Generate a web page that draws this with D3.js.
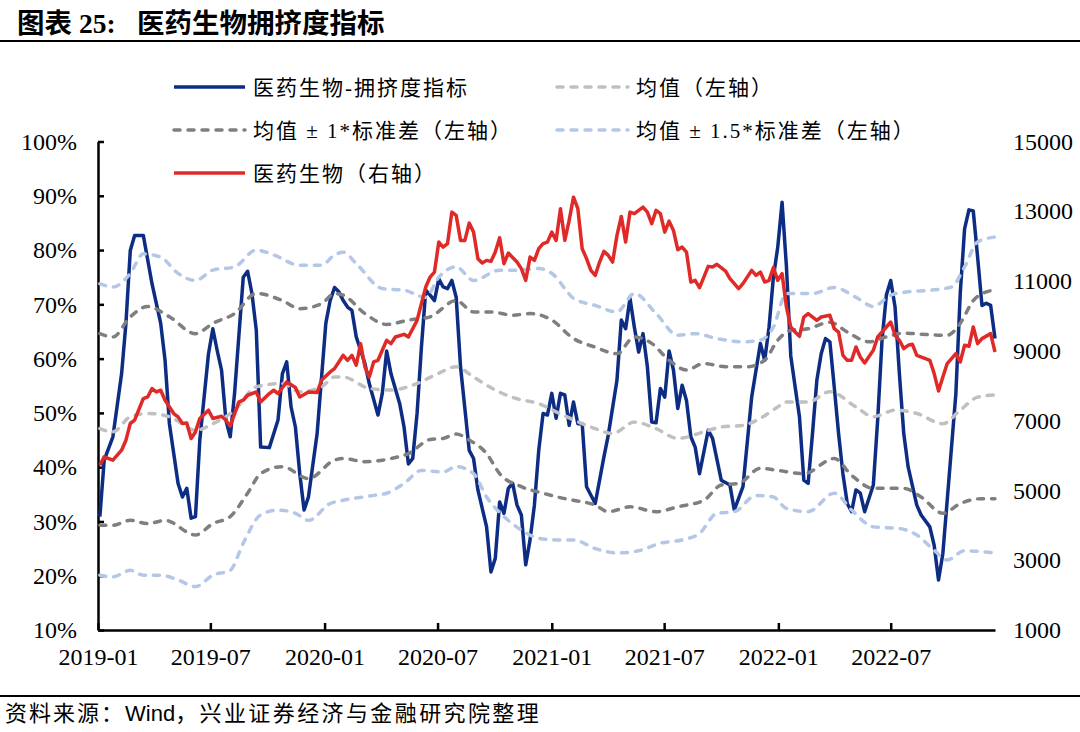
<!DOCTYPE html>
<html>
<head>
<meta charset="utf-8">
<script src="https://cdn.jsdelivr.net/npm/d3@7"></script>
<style>
  html, body { margin: 0; padding: 0; background: #fff; }
  #chart { width: 1080px; height: 732px; }
</style>
</head>
<body>
<div id="chart"></div>
<script>
// crowding-chart.js

// weekly data, week 0 = 2019-01-04 (Friday)
const crowding = [
  [0,30.9],[1,41.3],[3,45.6],[5,57.2],[6,66.5],[7,79.9],[8,82.7],[10,82.7],[12,73.8],[14,66.5],[15,59.7],[16,48.0],
  [17,42.5],[18,37.0],[19,34.5],[20,36.1],[21,30.6],[22,30.9],[23,45.0],[25,60.9],[26,65.5],[27,61.5],[28,57.9],
  [29,48.7],[30,45.6],[31,53.6],[33,75.0],[34,76.1],[35,72.0],[36,65.2],[37,43.7],[39,43.6],[41,48.7],[42,57.2],
  [43,59.4],[44,51.1],[45,47.4],[46,38.8],[47,32.1],[48,34.5],[50,46.2],[52,66.5],[53,70.7],[54,73.1],[55,72.3],
  [56,70.7],[57,69.5],[58,68.9],[59,64.0],[61,59.1],[62,55.4],[64,49.6],[65,53.6],[66,61.4],[67,57.2],[69,51.7],
  [70,47.4],[71,40.6],[72,41.6],[73,49.9],[74,62.1],[75,72.6],[76,71.7],[77,70.7],[78,74.7],[79,73.2],[80,72.9],
  [81,74.4],[82,71.3],[83,58.5],[85,43.1],[86,41.6],[87,35.8],[89,29.0],[90,20.7],[91,23.2],[92,33.6],[93,31.5],
  [94,36.1],[95,37.0],[96,33.0],[97,31.2],[98,22.0],[99,26.6],[100,33.0],[101,43.1],[102,49.9],[103,49.6],[104,53.6],
  [105,49.0],[106,53.6],[107,53.3],[108,47.7],[109,52.0],[110,48.0],[111,48.0],[112,36.4],[114,33.3],[116,41.9],
  [117,45.9],[119,56.0],[120,67.1],[121,65.5],[122,71.1],[123,65.8],[124,61.2],[125,64.6],[126,58.5],[127,48.3],
  [128,48.2],[129,54.5],[130,52.9],[131,61.4],[132,57.9],[133,50.8],[134,55.1],[135,52.3],[136,45.6],[137,43.7],
  [138,38.8],[140,46.8],[141,45.3],[143,37.6],[145,36.7],[146,32.1],[148,36.4],[150,52.9],[152,62.8],[153,59.7],
  [154,65.8],[155,75.0],[156,80.5],[157,88.8],[158,77.0],[159,60.5],[160,54.8],[161,49.3],[162,37.6],[163,37.0],
  [164,46.2],[165,56.0],[166,60.9],[167,63.7],[168,63.1],[169,54.8],[170,46.2],[171,38.8],[172,33.3],[173,31.8],
  [174,35.8],[175,35.2],[176,31.8],[178,36.7],[179,48.7],[180,63.4],[181,71.7],[182,74.4],[183,69.5],[184,57.2],
  [185,46.2],[186,40.1],[188,33.0],[189,31.2],[191,29.0],[192,25.6],[193,19.2],[194,24.1],[195,33.9],[197,53.6],
  [198,72.0],[199,83.9],[200,87.4],[201,87.2],[202,78.7],[203,69.8],[204,70.2],[205,69.8],[206,63.7]
];

const meanLine = [
  [0,47.1],[3,46.5],[7,49.3],[11,49.9],[16,49.3],[22,46.8],[26,48.0],[31,50.5],[36,54.8],[42,55.4],[46,53.9],
  [51,54.8],[54,56.6],[56,56.6],[62,54.5],[67,54.2],[72,55.1],[77,56.9],[82,58.5],[86,56.6],[91,54.2],[96,52.6],
  [101,51.7],[105,50.2],[109,48.7],[114,47.1],[118,46.2],[123,48.3],[128,47.1],[133,45.3],[139,46.5],[143,47.4],
  [148,47.7],[152,49.0],[156,51.1],[158,52.0],[163,52.0],[168,53.9],[174,51.1],[178,49.3],[183,50.5],[188,49.9],
  [194,48.0],[198,50.5],[202,52.9],[206,53.3]
];

const upper1 = [
  [0,64.6],[3,64.0],[7,67.7],[11,69.6],[16,67.7],[22,64.6],[26,66.5],[31,68.3],[36,72.0],[42,70.7],[46,69.2],
  [51,70.1],[54,72.0],[56,71.7],[61,68.3],[66,66.3],[71,67.1],[76,67.7],[82,70.7],[86,68.6],[90,68.6],[95,68.0],
  [99,68.3],[104,67.1],[109,63.7],[114,62.1],[119,60.9],[123,64.0],[127,62.8],[131,59.7],[135,57.9],[139,59.1],
  [144,58.5],[149,58.5],[153,59.7],[156,63.4],[159,65.2],[163,65.5],[168,66.7],[172,64.9],[177,63.1],[181,64.0],
  [185,64.7],[189,64.5],[195,64.3],[198,66.5],[201,70.7],[204,72.3],[206,72.6]
];

const lower1 = [
  [0,29.3],[3,29.3],[7,30.2],[11,29.6],[15,30.2],[22,27.5],[26,29.6],[30,30.9],[34,35.2],[37,38.8],[42,40.1],
  [48,37.9],[54,41.3],[56,41.6],[61,41.0],[67,41.6],[71,42.5],[76,45.1],[79,45.3],[82,46.1],[85,45.0],[89,42.5],
  [92,38.8],[97,36.4],[102,35.2],[107,34.2],[109,33.9],[114,33.0],[117,31.8],[122,32.7],[128,31.8],[133,32.7],
  [139,33.9],[143,36.7],[147,37.0],[152,39.8],[156,39.4],[162,38.8],[169,41.6],[173,38.5],[178,36.1],[185,36.1],
  [189,34.5],[194,31.5],[198,33.3],[203,34.2],[206,34.2]
];

const upper15 = [
  [0,73.8],[3,73.2],[7,75.7],[10,79.3],[14,78.7],[18,75.7],[22,74.4],[26,76.3],[31,76.9],[36,80.0],[40,79.1],
  [46,77.2],[51,77.2],[54,79.1],[56,79.6],[59,77.5],[65,72.9],[70,72.6],[75,71.3],[78,75.0],[82,76.9],[86,74.4],
  [92,76.3],[96,76.3],[101,76.6],[105,75.0],[107,72.9],[109,71.1],[114,69.8],[119,68.6],[123,72.0],[128,68.3],
  [133,64.3],[137,64.6],[142,63.7],[148,63.1],[152,63.4],[155,65.8],[158,72.0],[164,72.0],[169,73.1],[174,71.3],
  [178,69.6],[182,71.7],[186,72.3],[191,72.6],[196,73.2],[199,76.9],[202,81.5],[206,82.4]
];

const lower15 = [
  [0,20.1],[3,19.8],[7,21.0],[10,20.1],[14,20.1],[18,19.2],[22,18.0],[26,20.1],[30,21.0],[33,26.0],[37,31.2],
  [41,32.1],[45,31.5],[48,30.2],[53,33.3],[56,33.9],[63,34.8],[66,35.2],[70,37.0],[74,39.4],[79,39.1],[82,40.1],
  [86,38.8],[89,34.5],[93,30.9],[97,28.4],[101,26.9],[105,26.6],[109,26.6],[114,25.0],[119,24.2],[124,24.6],
  [129,26.0],[134,26.6],[138,27.8],[142,31.5],[146,31.8],[151,34.8],[155,34.5],[158,32.4],[163,31.8],[169,35.2],
  [173,32.1],[178,29.0],[184,28.7],[188,27.5],[192,24.7],[195,22.9],[199,24.6],[206,24.2]
];

// index level, right axis
const indexLine = [
  [0,5724],[1,5962],[3,5867],[5,6153],[6,6440],[7,6918],[8,7012],[10,7634],[11,7679],[12,7920],[13,7822],[14,7871],
  [15,7585],[17,7204],[18,7107],[19,6918],[20,6935],[21,6488],[22,6677],[23,7061],[25,7299],[26,7061],[28,7127],
  [29,7012],[30,6841],[32,7536],[33,7585],[34,7728],[36,7822],[37,7536],[39,7777],[40,7871],[41,7777],[43,8109],
  [45,7948],[46,7679],[48,7822],[50,7805],[51,8158],[53,8395],[54,8492],[56,8873],[57,8730],[58,8873],[59,8587],
  [60,9208],[61,8538],[62,8252],[63,8682],[64,8730],[66,9303],[67,9208],[68,9397],[70,9474],[71,9397],[73,9875],
  [75,10829],[76,11115],[77,11258],[78,12117],[79,11974],[80,12071],[81,12976],[82,12881],[83,12166],[84,12166],
  [85,12661],[86,12403],[87,11642],[88,11516],[89,11593],[90,11564],[91,11831],[92,12243],[93,11498],[94,11802],
  [96,11545],[97,11356],[98,11021],[99,11688],[100,11593],[101,11928],[102,12071],[103,12117],[104,12403],[105,12166],
  [106,13073],[107,12166],[108,12738],[109,13405],[110,13073],[111,11928],[112,11642],[113,11307],[114,11164],
  [115,11545],[116,11851],[117,11736],[118,11545],[119,12309],[120,12853],[121,12117],[122,12976],[123,12930],
  [125,13119],[126,12976],[127,12644],[128,13025],[129,12930],[130,12403],[131,12718],[132,12452],[133,11899],
  [134,11974],[135,11831],[136,10972],[137,11021],[138,10811],[139,11115],[140,11421],[141,11401],[142,11479],
  [144,11287],[145,11069],[147,10783],[148,10926],[150,11307],[151,11164],[152,11258],[153,10972],[154,11021],
  [155,11384],[156,11021],[157,11212],[158,10256],[159,9684],[160,9540],[161,9417],[162,9970],[163,10067],[165,9875],
  [166,9970],[168,10018],[169,9638],[170,9540],[171,8873],[172,8730],[173,8730],[174,9111],[175,8825],[176,8653],
  [178,9016],[179,9397],[181,9684],[182,9827],[183,9446],[184,9303],[185,9065],[186,9160],[187,9188],[188,8873],
  [190,8779],[191,8730],[192,8349],[193,7851],[194,8252],[195,8636],[197,8922],[198,8682],[199,9160],[200,9131],
  [201,9684],[202,9208],[203,9351],[205,9494],[206,8968]
];

const seriesNames = ["医药生物-拥挤度指标", "均值（左轴）", "均值 ± 1*标准差（左轴）", "均值 ± 1.5*标准差（左轴）", "医药生物（右轴）"];
const xTickLabels = ["2019-01", "2019-07", "2020-01", "2020-07", "2021-01", "2021-07", "2022-01", "2022-07"];
const leftTicks = [10, 20, 30, 40, 50, 60, 70, 80, 90, 100];
const rightTicks = [1000, 3000, 5000, 7000, 9000, 11000, 13000, 15000];
const lastWeek = 206;

const serifFont = "'Liberation Serif', 'Times New Roman', 'Noto Sans CJK SC', serif";
const footFont = "'Liberation Sans', Arial, 'Noto Sans CJK SC', sans-serif";

const weekStart = Date.UTC(2019, 0, 4);
function weekDate(w) {
    return new Date(weekStart + w * 7 * 86400000);
}

function drawChart() {
    const svg = d3.select("#chart")
        .append("svg")
        .attr("width", 1080)
        .attr("height", 732);

    svg.append("rect").attr("width", 1080).attr("height", 732).attr("fill", "#fff");

    // title and rules
    const title = svg.append("text")
        .attr("y", 33)
        .attr("font-family", serifFont)
        .attr("font-weight", "bold")
        .attr("font-size", 27.5);
    title.append("tspan").attr("x", 17).text("图表");
    title.append("tspan").attr("x", 79).text("25:");
    title.append("tspan").attr("x", 137).text("医药生物拥挤度指标");

    svg.append("line").attr("x1", 0).attr("x2", 1080).attr("y1", 41).attr("y2", 41)
        .attr("stroke", "#000").attr("stroke-width", 2);
    svg.append("line").attr("x1", 0).attr("x2", 1080).attr("y1", 696).attr("y2", 696)
        .attr("stroke", "#000").attr("stroke-width", 2);

    // source note, Latin part without extra spacing
    const foot = svg.append("text")
        .attr("x", 5).attr("y", 721)
        .attr("font-family", footFont)
        .attr("font-size", 22);
    foot.append("tspan").attr("letter-spacing", 2).text("资料来源：");
    foot.append("tspan").attr("letter-spacing", 0).text("Wind");
    foot.append("tspan").attr("letter-spacing", 2.4).text("，兴业证券经济与金融研究院整理");

    // scales
    const x = d3.scaleUtc()
        .domain([new Date(Date.UTC(2019, 0, 1)), weekDate(lastWeek)])
        .range([98, 995]);
    const yLeft = d3.scaleLinear().domain([10, 100]).range([630, 141.5]);
    const yRight = d3.scaleLinear().domain([1000, 15000]).range([630, 141.5]);

    const parseMonth = d3.utcParse("%Y-%m");

    // axes
    const xAxis = svg.append("g")
        .attr("transform", "translate(0,630)")
        .call(d3.axisBottom(x)
            .tickValues(xTickLabels.map(parseMonth))
            .tickFormat(d3.utcFormat("%Y-%m"))
            .tickSizeInner(-7)
            .tickSizeOuter(0)
            .tickPadding(18));

    const leftAxis = svg.append("g")
        .attr("transform", "translate(98,0)")
        .call(d3.axisLeft(yLeft)
            .tickValues(leftTicks)
            .tickFormat(d => d + "%")
            .tickSizeInner(-6)
            .tickSizeOuter(0)
            .tickPadding(21));

    const rightAxis = svg.append("g")
        .attr("transform", "translate(995,0)")
        .call(d3.axisRight(yRight)
            .tickValues(rightTicks)
            .tickFormat(d3.format("d"))
            .tickSize(0)
            .tickPadding(18));
    rightAxis.select(".domain").remove();

    [xAxis, leftAxis, rightAxis].forEach(g => {
        g.attr("font-family", serifFont).attr("font-size", 24);
        g.selectAll("text").attr("fill", "#000");
        g.selectAll("line").attr("stroke", "#000").attr("stroke-width", 2.5);
        g.selectAll(".domain").attr("stroke", "#000").attr("stroke-width", 2.5);
    });

    // lines
    const seriesStyles = [
        { data: crowding, scale: yLeft, color: "#0D2C84", dash: null, curve: d3.curveLinear },
        { data: meanLine, scale: yLeft, color: "#C0C0C0", dash: "6,8", curve: d3.curveMonotoneX },
        { data: upper1, scale: yLeft, color: "#7F7F7F", dash: "6,8", curve: d3.curveMonotoneX },
        { data: lower1, scale: yLeft, color: "#7F7F7F", dash: "6,8", curve: d3.curveMonotoneX },
        { data: upper15, scale: yLeft, color: "#B4C7E7", dash: "6,8", curve: d3.curveMonotoneX },
        { data: lower15, scale: yLeft, color: "#B4C7E7", dash: "6,8", curve: d3.curveMonotoneX },
        { data: indexLine, scale: yRight, color: "#E02A27", dash: null, curve: d3.curveLinear }
    ];

    const plot = svg.append("g");
    seriesStyles.forEach(s => {
        const line = d3.line()
            .x(d => x(weekDate(d[0])))
            .y(d => s.scale(d[1]))
            .curve(s.curve);
        plot.append("path")
            .datum(s.data)
            .attr("d", line)
            .attr("fill", "none")
            .attr("stroke", s.color)
            .attr("stroke-width", 3.5)
            .attr("stroke-linejoin", "round")
            .attr("stroke-linecap", s.dash ? "round" : "butt")
            .attr("stroke-dasharray", s.dash);
    });

    // legend: two columns, filled row by row
    const legendStyles = [seriesStyles[0], seriesStyles[1], seriesStyles[2], seriesStyles[4], seriesStyles[6]];
    const legend = svg.append("g");
    const items = legend.selectAll("g")
        .data(seriesNames)
        .join("g")
        .attr("transform", (d, i) => `translate(${i % 2 === 0 ? 174 : 557},${87 + Math.floor(i / 2) * 43})`);

    items.append("line")
        .attr("x1", 0).attr("x2", 71)
        .attr("stroke", (d, i) => legendStyles[i].color)
        .attr("stroke-width", 3.5)
        .attr("stroke-linecap", (d, i) => legendStyles[i].dash ? "round" : "butt")
        .attr("stroke-dasharray", (d, i) => legendStyles[i].dash);

    items.append("text")
        .attr("x", 79)
        .attr("y", 8)
        .attr("font-family", serifFont)
        .attr("font-size", 21)
        .attr("letter-spacing", 2)
        .text(d => d);
}

document.addEventListener('DOMContentLoaded', function() {
    drawChart();
});
</script>
</body>
</html>
